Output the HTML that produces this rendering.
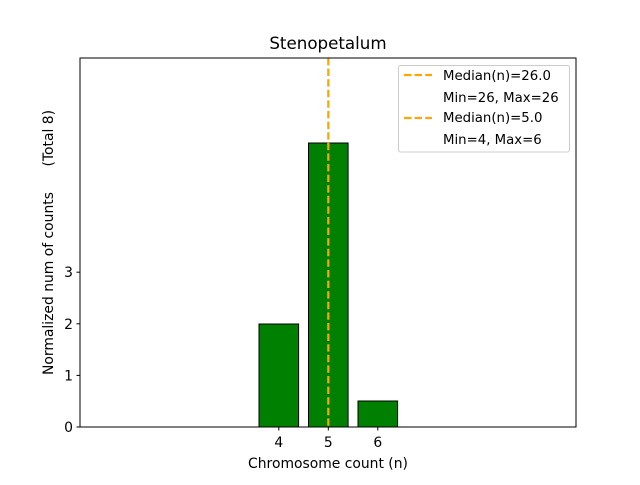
<!DOCTYPE html>
<html><head><style>body{margin:0;background:#fff}</style></head><body>
<svg width="640" height="480" xmlns="http://www.w3.org/2000/svg" font-family="DejaVu Sans, Liberation Sans, sans-serif">
<rect width="640" height="480" fill="#fff"/>
<text x="328" y="49" font-size="16.7" text-anchor="middle">Stenopetalum</text>
<rect x="259" y="324" width="39.6" height="103" fill="#008000" stroke="#000" stroke-width="1"/>
<rect x="308.5" y="143" width="39.6" height="284" fill="#008000" stroke="#000" stroke-width="1"/>
<rect x="358" y="401" width="39.6" height="26" fill="#008000" stroke="#000" stroke-width="1"/>
<line x1="328.3" y1="58" x2="328.3" y2="427" stroke="#ffa500" stroke-width="2.2" stroke-dasharray="7.4,3.2"/>
<rect x="80" y="58" width="496" height="369" fill="none" stroke="#000" stroke-width="1"/>
<g stroke="#000">
<line x1="76.5" y1="427" x2="80" y2="427"/><line x1="76.5" y1="375.4" x2="80" y2="375.4"/>
<line x1="76.5" y1="323.8" x2="80" y2="323.8"/><line x1="76.5" y1="272.2" x2="80" y2="272.2"/>
<line x1="278.8" y1="427" x2="278.8" y2="430.5"/><line x1="328.3" y1="427" x2="328.3" y2="430.5"/><line x1="377.8" y1="427" x2="377.8" y2="430.5"/>
</g>
<g font-size="13.9" text-anchor="end">
<text x="73" y="432">0</text><text x="73" y="380.4">1</text><text x="73" y="328.8">2</text><text x="73" y="277.2">3</text>
</g>
<g font-size="13.9" text-anchor="middle">
<text x="278.8" y="447">4</text><text x="328.3" y="447">5</text><text x="377.8" y="447">6</text>
<text x="328" y="468">Chromosome count (n)</text>
</g>
<g transform="rotate(-90)" font-size="13.9">
<text x="-375" y="53">Normalized num of counts</text>
<text x="-110" y="53" text-anchor="end">(Total 8)</text>
</g>
<rect x="398.5" y="65.5" width="171" height="86.5" rx="2" fill="#fff" fill-opacity="0.8" stroke="#ccc"/>
<line x1="404" y1="75" x2="432" y2="75" stroke="#ffa500" stroke-width="2.2" stroke-dasharray="7.4,3.2"/>
<line x1="404" y1="118" x2="432" y2="118" stroke="#ffa500" stroke-width="2.2" stroke-dasharray="7.4,3.2"/>
<g font-size="13.3">
<text x="443" y="80">Median(n)=26.0</text>
<text x="443" y="102">Min=26, Max=26</text>
<text x="443" y="122">Median(n)=5.0</text>
<text x="443" y="144">Min=4, Max=6</text>
</g>
</svg>
</body></html>
